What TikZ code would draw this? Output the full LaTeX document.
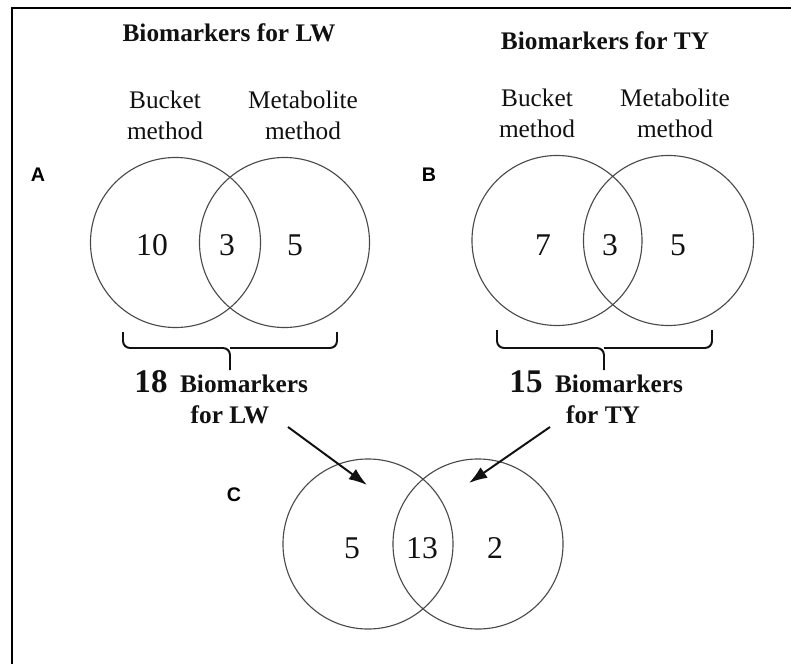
\documentclass[tikz,border=0pt]{standalone}
\usepackage{fontspec}
\setmainfont{Liberation Serif}
\setsansfont{Liberation Sans}
\usetikzlibrary{positioning, arrows.meta, calc}
\definecolor{ringgray}{HTML}{4A4A4A}
\definecolor{inkblack}{HTML}{111111}

\begin{document}
\begin{tikzpicture}[
    x=0.025cm, y=-0.025cm,
    headtxt/.style={font=\bfseries\fontsize{18}{22}\selectfont, text=inkblack, inner sep=1pt},
    method/.style={font=\fontsize{18}{22}\selectfont, text=inkblack, align=center, inner sep=1pt},
    venn/.style={circle, draw=ringgray, line width=0.8pt, minimum size=4.25cm, inner sep=0pt},
    numtxt/.style={font=\fontsize{22.5}{24}\selectfont, text=inkblack, inner sep=1pt},
    total/.style={font=\bfseries\fontsize{23.5}{26}\selectfont, text=inkblack, inner sep=1pt},
    panel/.style={font=\sffamily\bfseries\fontsize{14}{16}\selectfont, inner sep=1pt},
    bracepath/.style={line width=1.4pt, rounded corners=5pt, inkblack},
    arrow/.style={-{Latex[length=13pt,width=9pt]}, line width=1.4pt, inkblack},
    framepath/.style={line width=1.8pt}
  ]
    \useasboundingbox (0,0) rectangle (791,664);
    \draw[framepath] (12,664) -- (12,8) -- (791,8);

    % panel A
    \node[headtxt] (lwhead) at (229,33) {Biomarkers for LW};
    \node[method] (lwbktlbl) at (165,115) {Bucket\\method};
    \node[method] (lwmetlbl) at (303,115) {Metabolite\\method};
    \node[panel] (pa) at (38,175) {A};
    \node[venn] (lwbkt) at (175.5,242.5) {};
    \node[venn] (lwmet) at (284.5,242.5) {};
    \node[numtxt] (lwn1) at (152,245) {10};
    \node[numtxt] (lwn2) at (227,245) {3};
    \node[numtxt] (lwn3) at (295,245) {5};
    \draw[bracepath] (123,332) |- (230,348) -- (230,370);
    \draw[bracepath] (337,332) |- (230,348);
    \node[total] (lwnum) at (151,382) {18};
    \node[headtxt, base right=0.23cm of lwnum] (lwbio) {Biomarkers};
    \node[headtxt] (lwfor) at (230,415) {for LW};

    % panel B
    \node[headtxt] (tyhead) at (605,41) {Biomarkers for TY};
    \node[method] (tybktlbl) at (537,113) {Bucket\\method};
    \node[method] (tymetlbl) at (675,113) {Metabolite\\method};
    \node[panel] (pb) at (429,175) {B};
    \node[venn] (tybkt) at (557,240.5) {};
    \node[venn] (tymet) at (668.5,240.5) {};
    \node[numtxt] (tyn1) at (543,245) {7};
    \node[numtxt] (tyn2) at (610,245) {3};
    \node[numtxt] (tyn3) at (678,245) {5};
    \draw[bracepath] (497,330) |- (604,348) -- (604,370);
    \draw[bracepath] (712,330) |- (604,348);
    \node[total] (tynum) at (526,382) {15};
    \node[headtxt, base right=0.23cm of tynum] (tybio) {Biomarkers};
    \node[headtxt] (tyfor) at (603,415) {for TY};

    % panel C
    \node[panel] (pc) at (234,495) {C};
    \node[venn] (cbl) at (368,544) {};
    \node[venn] (cbr) at (478,544) {};
    \node[numtxt] (cn1) at (352,548) {5};
    \node[numtxt] (cn2) at (422,548) {13};
    \node[numtxt] (cn3) at (495,548) {2};

    \coordinate (lwtail) at (288,427);
    \coordinate (lwtip) at (367,485);
    \coordinate (tytail) at (550,427);
    \coordinate (tytip) at (469,483);
    \draw[arrow] (lwtail) -- (lwtip);
    \draw[arrow] (tytail) -- (tytip);
  \end{tikzpicture}
\end{document}
